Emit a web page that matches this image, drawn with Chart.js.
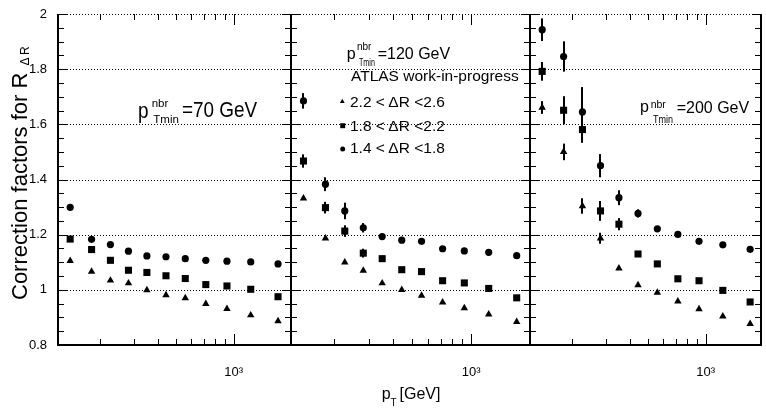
<!DOCTYPE html>
<html>
<head>
<meta charset="utf-8">
<title>Correction factors for R_ΔR</title>
<script src="https://cdn.jsdelivr.net/npm/chart.js@4.4.1/dist/chart.umd.min.js"></script>
<style>
  html, body { margin: 0; padding: 0; background: #fff; }
  #wrap { position: relative; width: 766px; height: 408px; overflow: hidden;
          font-family: "Liberation Sans", Arial, Helvetica, sans-serif; color: #000; }
  #wrap canvas { position: absolute; left: 0; top: 0; }
  .t { position: absolute; line-height: 1; white-space: nowrap; }
</style>
</head>
<body>
<div id="wrap">
  <canvas id="c70" width="766" height="408"></canvas>
  <canvas id="c120" width="766" height="408"></canvas>
  <canvas id="c200" width="766" height="408"></canvas>
</div>
<script>
// bin centres in pT [GeV], same for the three panels
const ptBins = [139, 180, 226, 281, 351, 442, 558, 715, 923, 1230, 1710];
const xTickValues = [200, 300, 400, 500, 600, 700, 800, 900, 1000];

// pT,min nbr = 70 GeV
const tri70  = [1.105, 1.066, 1.034, 1.024, 0.999, 0.981, 0.970, 0.949, 0.931, 0.908, 0.887];
const sq70   = [1.184, 1.146, 1.107, 1.071, 1.063, 1.051, 1.041, 1.019, 1.014, 1.002, 0.975];
const circ70 = [1.299, 1.183, 1.164, 1.140, 1.123, 1.120, 1.113, 1.107, 1.104, 1.101, 1.094];

// pT,min nbr = 120 GeV
const tri120  = [1.332, 1.187, 1.100, 1.070, 1.024, 1.000, 0.979, 0.955, 0.934, 0.911, 0.884];
const sq120   = [1.467, 1.298, 1.213, 1.133, 1.113, 1.073, 1.066, 1.033, 1.025, 1.005, 0.971];
const circ120 = [1.685, 1.383, 1.286, 1.225, 1.193, 1.180, 1.176, 1.149, 1.141, 1.136, 1.124];
const sq120Err   = [0.024, 0.021, 0.021, 0.016, 0, 0, 0, 0, 0, 0, 0];
const circ120Err = [0.028, 0.025, 0.030, 0.017, 0, 0, 0, 0, 0, 0, 0];

// pT,min nbr = 200 GeV
const tri200  = [1.661, 1.500, 1.304, 1.187, 1.078, 1.017, 0.990, 0.958, 0.930, 0.904, 0.877];
const sq200   = [1.792, 1.651, 1.581, 1.286, 1.238, 1.130, 1.094, 1.040, 1.033, 0.998, 0.956];
const circ200 = [1.943, 1.846, 1.645, 1.450, 1.334, 1.277, 1.221, 1.201, 1.176, 1.163, 1.147];
const tri200Err  = [0.023, 0.030, 0.028, 0.020, 0, 0, 0, 0, 0, 0, 0];
const sq200Err   = [0.034, 0.051, 0.048, 0.036, 0.022, 0.010, 0, 0, 0, 0, 0];
const circ200Err = [0.041, 0.055, 0.090, 0.042, 0.027, 0.015, 0.010, 0, 0, 0, 0];

Chart.defaults.font.family = '"Liberation Sans", Arial, Helvetica, sans-serif';
Chart.defaults.color = '#000';

function mark(ctx, style, x, y, r) {
  ctx.beginPath();
  if (style === 'circle') ctx.arc(x, y, r, 0, Math.PI * 2);
  else if (style === 'rect') ctx.rect(x - r * 0.707, y - r * 0.707, r * 1.414, r * 1.414);
  else { ctx.moveTo(x, y - r); ctx.lineTo(x + r * 0.866, y + r / 2); ctx.lineTo(x - r * 0.866, y + r / 2); ctx.closePath(); }
  ctx.fill();
}

// ROOT-like frame: dotted grid, inward ticks, frame lines, error bars
const rootFrame = {
  id: 'rootFrame',
  beforeDatasetsDraw(chart, args, opts) {
    const { ctx, chartArea: a, scales: { x, y } } = chart;
    const L = Math.round(a.left), R = Math.round(a.right);
    const T = Math.round(a.top), B = Math.round(a.bottom);
    ctx.save();
    ctx.strokeStyle = '#000';
    ctx.lineWidth = 1;
    ctx.setLineDash([1, 2]);
    for (let k = 20; k <= 40; k += 4) {
      const py = Math.round(y.getPixelForValue(k / 20)) + 0.5;
      ctx.beginPath(); ctx.moveTo(L, py); ctx.lineTo(R, py); ctx.stroke();
    }
    ctx.setLineDash([]);
    // inward tick marks on all four sides
    for (let k = 16; k <= 40; k++) {
      const len = k % 4 === 0 ? 9 : 6;
      const py = Math.round(y.getPixelForValue(k / 20)) + 0.5;
      ctx.beginPath();
      ctx.moveTo(L, py); ctx.lineTo(L + len, py);
      ctx.moveTo(R, py); ctx.lineTo(R - len, py);
      ctx.stroke();
    }
    xTickValues.forEach(v => {
      const len = v === 1000 ? 11 : 6;
      const px = Math.round(x.getPixelForValue(v)) + 0.5;
      ctx.beginPath();
      ctx.moveTo(px, B); ctx.lineTo(px, B - len);
      ctx.moveTo(px, T); ctx.lineTo(px, T + len);
      ctx.stroke();
    });
    ctx.fillStyle = '#000';
    ctx.fillRect(L - 1, T, 2, B - T + 1);
    ctx.fillRect(R - 1, T, 2, B - T + 1);
    ctx.fillRect(L - 1, B - 1, R - L + 2, 2);
    chart.data.datasets.forEach(ds => {
      (ds.errorBars || []).forEach((e, i) => {
        if (!e) return;
        const p = ds.data[i];
        const px = Math.round(x.getPixelForValue(p.x));
        const y1 = y.getPixelForValue(p.y + e), y2 = y.getPixelForValue(p.y - e);
        ctx.fillRect(px - 1, y1, 2, y2 - y1);
      });
    });
    ((opts && opts.legend) || []).forEach(m => mark(ctx, m.style, m.x, m.y, m.r));
    ctx.restore();
  }
};

function series(vals, style, radius, errs) {
  return {
    data: ptBins.map((x, i) => ({ x, y: vals[i] })),
    errorBars: errs,
    pointStyle: style,
    pointRadius: radius,
    pointHoverRadius: radius,
    pointBackgroundColor: '#000',
    pointBorderWidth: 0,
    showLine: false
  };
}

function panel(id, padLeft, padRight, xMax, withYLabels, datasets, legend) {
  new Chart(document.getElementById(id), {
    type: 'scatter',
    data: { datasets },
    options: {
      responsive: false,
      animation: false,
      events: [],
      layout: { padding: { left: padLeft, right: padRight, top: 14, bottom: 0 } },
      plugins: { legend: { display: false }, tooltip: { enabled: false }, rootFrame: { legend } },
      scales: {
        x: {
          type: 'logarithmic', min: 120, max: xMax,
          afterBuildTicks: s => { s.ticks = xTickValues.map(v => ({ value: v, major: v === 1000 })); },
          afterFit: s => { s.height = 63; },
          grid: { display: false }, border: { display: false },
          ticks: { autoSkip: false, maxRotation: 0, minRotation: 0, padding: 12,
                   font: { size: 13 }, color: '#000',
                   callback: v => (v === 1000 ? '10\u00b3' : '') }
        },
        y: {
          min: 0.8, max: 2.0,
          afterFit: s => { s.width = withYLabels ? 58 : 0; },
          grid: { display: false }, border: { display: false },
          ticks: { display: withYLabels, stepSize: 0.05, autoSkip: false, padding: 3,
                   font: { size: 13 }, color: '#000',
                   callback: v => { const k = Math.round(v * 20); return k % 4 === 0 ? String(k / 20) : ''; } }
        }
      }
    },
    plugins: [rootFrame]
  });
}

panel('c70', 0, 475, 2000, true, [
  series(tri70, 'triangle', 4.3),
  series(sq70, 'rect', 5),
  series(circ70, 'circle', 3.6)
]);
panel('c120', 291, 236, 2000, false, [
  series(tri120, 'triangle', 4.3),
  series(sq120, 'rect', 5, sq120Err),
  series(circ120, 'circle', 3.6, circ120Err)
], [
  { style: 'triangle', x: 342.3, y: 101.5, r: 2.8 },
  { style: 'rect', x: 342.7, y: 125.7, r: 3.5 },
  { style: 'circle', x: 342.7, y: 149, r: 2.5 }
]);
panel('c200', 530, 0, 1950, false, [
  series(tri200, 'triangle', 4.3, tri200Err),
  series(sq200, 'rect', 5, sq200Err),
  series(circ200, 'circle', 3.6, circ200Err)
]);

// texts (kept as HTML text)
const wrap = document.getElementById('wrap');
function put(text, x, base, size, sx) {
  const d = document.createElement('div');
  d.className = 't';
  d.textContent = text;
  d.style.left = x + 'px';
  d.style.top = (base - 0.8465 * size) + 'px';
  d.style.fontSize = size + 'px';
  if (sx) { d.style.transform = 'scaleX(' + sx + ')'; d.style.transformOrigin = '0 0'; }
  wrap.appendChild(d);
}

put('p', 138.3, 118.5, 22, 0.86);
put('nbr', 151.7, 107.3, 11.5);
put('Tmin', 153.3, 124, 11.5);
put('=70 GeV', 181.7, 118, 22, 0.86);

put('p', 346.7, 59.3, 16);
put('nbr', 357, 50.7, 10);
put('Tmin', 359, 66, 10.5, 0.68);
put('=120 GeV', 377.7, 59.3, 16);
put('ATLAS work-in-progress', 351, 81, 15.5);
put('2.2 < \u0394R <2.6', 350, 107.3, 15.5);
put('1.8 < \u0394R <2.2', 350, 131, 15.5);
put('1.4 < \u0394R <1.8', 350, 153.3, 15.5);

put('p', 640, 112.5, 16);
put('nbr', 650.7, 108.3, 10.5);
put('Tmin', 652.7, 123, 10.5, 0.86);
put('=200 GeV', 676.7, 113.3, 16);

put('p', 381.7, 400, 16);
put('T', 390.5, 406.5, 10);
put('[GeV]', 399.5, 400, 16);

const yt = document.createElement('div');
yt.className = 't';
Object.assign(yt.style, { left: '9px', top: '300px', fontSize: '22px',
  transformOrigin: '0 0', transform: 'rotate(-90deg)' });
yt.innerHTML = 'Correction factors for R<span style="font-size:12px;position:relative;top:2px;margin-left:7px">\u0394 R</span>';
wrap.appendChild(yt);
</script>
</body>
</html>
